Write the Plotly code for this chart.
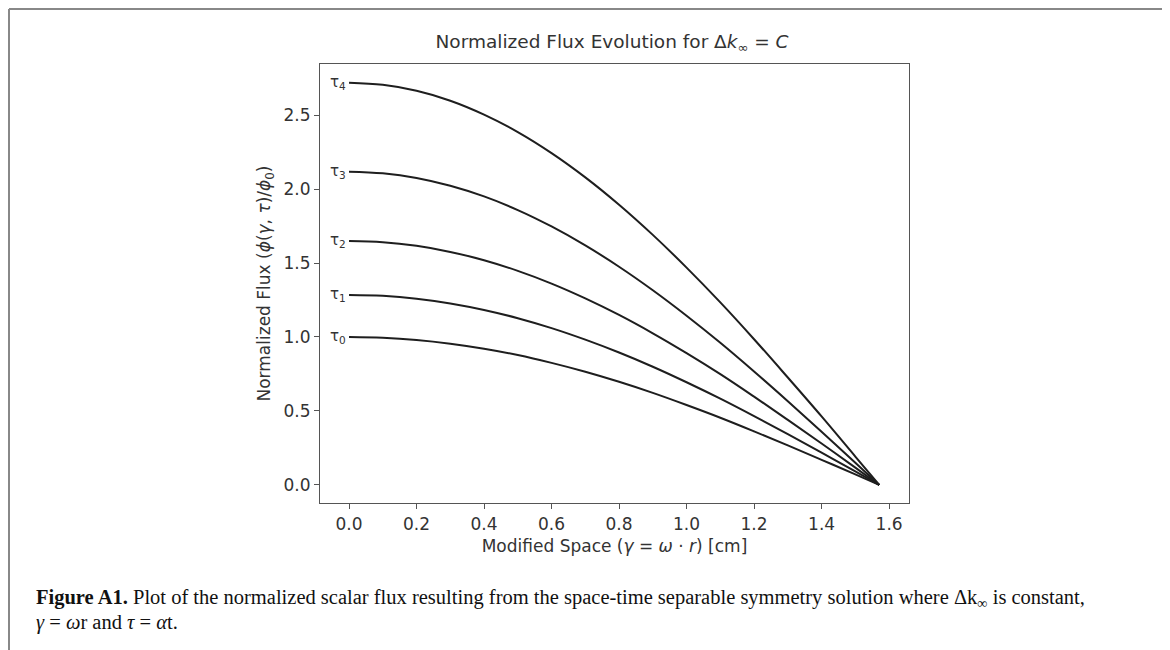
import plotly.graph_objects as go

# Data
gamma = [0.0, 0.1, 0.2, 0.3, 0.4, 0.5, 0.6, 0.7, 0.8, 0.9, 1.0, 1.1, 1.2, 1.3, 1.4, 1.5, 1.5708]
tau0 = [1.000, 0.995, 0.980, 0.955, 0.921, 0.878, 0.825, 0.765, 0.697, 0.622, 0.540, 0.454, 0.362, 0.267, 0.170, 0.071, 0.0]
tau1 = [1.284, 1.278, 1.259, 1.227, 1.183, 1.127, 1.060, 0.982, 0.895, 0.799, 0.694, 0.583, 0.465, 0.343, 0.218, 0.091, 0.0]
tau2 = [1.649, 1.641, 1.616, 1.575, 1.519, 1.447, 1.361, 1.261, 1.149, 1.025, 0.891, 0.749, 0.597, 0.440, 0.280, 0.117, 0.0]
tau3 = [2.117, 2.106, 2.075, 2.022, 1.950, 1.858, 1.747, 1.619, 1.475, 1.316, 1.144, 0.961, 0.767, 0.566, 0.360, 0.150, 0.0]
tau4 = [2.718, 2.704, 2.664, 2.597, 2.503, 2.385, 2.243, 2.079, 1.894, 1.690, 1.469, 1.234, 0.985, 0.726, 0.463, 0.192, 0.0]
series = [tau0, tau1, tau2, tau3, tau4]
labels = ["τ<sub>0</sub>", "τ<sub>1</sub>", "τ<sub>2</sub>", "τ<sub>3</sub>", "τ<sub>4</sub>"]
x_ticks = [0.0, 0.2, 0.4, 0.6, 0.8, 1.0, 1.2, 1.4, 1.6]
y_ticks = [0.0, 0.5, 1.0, 1.5, 2.0, 2.5]

W, H = 1170, 650
OX, OY = -8, -8  # compensate page body margin


def px(x):
    return (x + OX) / W


def py(y):
    return 1 - (y + OY) / H


fig = go.Figure()
for s in series:
    fig.add_trace(go.Scatter(x=gamma, y=s, mode="lines",
                             line=dict(color="#1e1e1e", width=2, shape="spline", smoothing=1.0),
                             hoverinfo="skip", showlegend=False))

for lab, s in zip(labels, series):
    fig.add_annotation(x=0, y=s[0], xref="x", yref="y", text=lab, showarrow=False,
                       xanchor="right", yanchor="middle", xshift=-1,
                       font=dict(family="DejaVu Sans", size=15, color="#333"))

ax_common = dict(showgrid=False, zeroline=False, showline=True, linecolor="#555", linewidth=1.2,
                 mirror=True, ticks="outside", ticklen=5, tickcolor="#555",
                 tickfont=dict(family="DejaVu Sans", size=17, color="#333"))

fig.update_layout(
    width=W, height=H,
    paper_bgcolor="white", plot_bgcolor="white",
    margin=dict(l=0, r=0, t=0, b=0),
    xaxis=dict(domain=[px(320), px(909)], range=[-0.086, 1.659], tickvals=x_ticks,
               ticktext=[f"{v:.1f}" for v in x_ticks],
               title=dict(text="Modified Space (<i>γ</i> = <i>ω</i> · <i>r</i>) [cm]",
                          font=dict(family="DejaVu Sans", size=17, color="#333"), standoff=7),
               **ax_common),
    yaxis=dict(domain=[py(503), py(64)], range=[-0.122, 2.845], tickvals=y_ticks,
               ticktext=[f"{v:.1f}" for v in y_ticks],
               title=dict(text="Normalized Flux (<i>ϕ</i>(<i>γ</i>, <i>τ</i>)/<i>ϕ</i><sub>0</sub>)",
                          font=dict(family="DejaVu Sans", size=17, color="#333"), standoff=8),
               **ax_common),
    title=dict(text="Normalized Flux Evolution for Δ<i>k</i><sub>∞</sub> = <i>C</i>",
               x=px(612), xanchor="center", y=py(42), yanchor="middle",
               font=dict(family="DejaVu Sans", size=18.5, color="#333")),
)

# Figure frame (page border)
top = 1 - 1 / H
fig.add_shape(type="line", xref="paper", yref="paper", x0=px(8) + 1 / W, x1=px(1163), y0=top, y1=top,
              line=dict(color="#888", width=2))
fig.add_shape(type="line", xref="paper", yref="paper", x0=px(8) + 1 / W, x1=px(8) + 1 / W, y0=0, y1=top,
              line=dict(color="#888", width=2))
fig.add_shape(type="line", xref="paper", yref="paper", x0=px(1163), x1=px(1163), y0=0, y1=top,
              line=dict(color="#888", width=2))

# Caption
fig.add_annotation(x=px(34), y=py(598), xref="paper", yref="paper", xanchor="left", yanchor="middle",
                   showarrow=False, align="left",
                   text="<b>Figure A1.</b> Plot of the normalized scalar flux resulting from the space-time separable symmetry solution where Δk<sub>∞</sub> is constant,",
                   font=dict(family="Liberation Serif", size=20.5, color="#111"))
fig.add_annotation(x=px(34), y=py(622), xref="paper", yref="paper", xanchor="left", yanchor="middle",
                   showarrow=False, align="left",
                   text="<i>γ</i> = <i>ω</i>r and <i>τ</i> = <i>α</i>t.",
                   font=dict(family="Liberation Serif", size=20.5, color="#111"))

fig.write_html("out.html")
